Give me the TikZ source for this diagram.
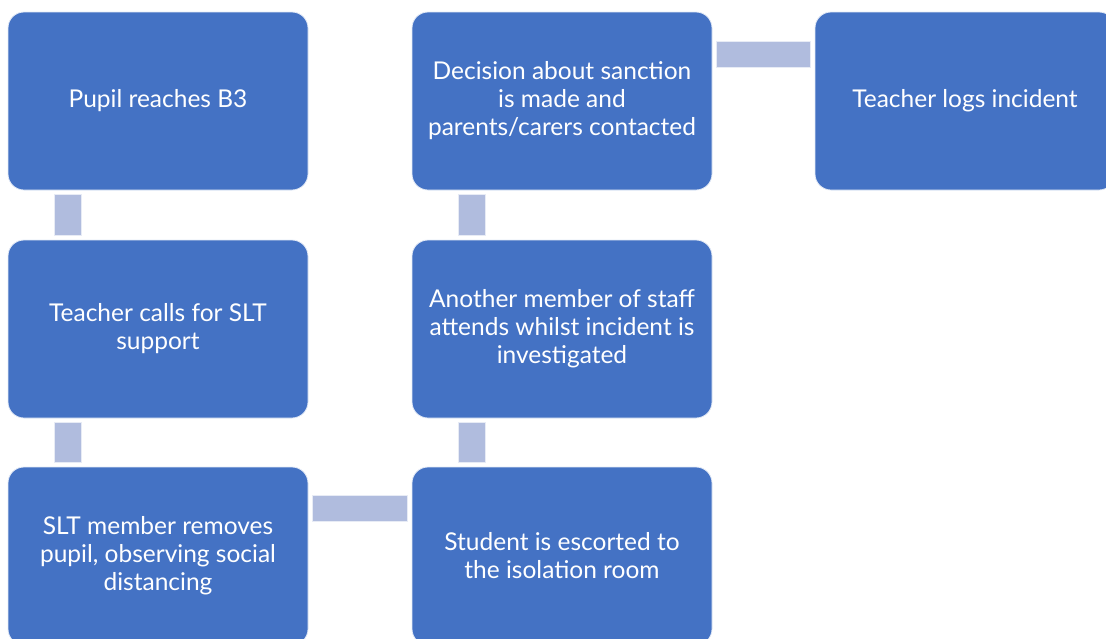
\documentclass[tikz,border=0pt]{standalone}
\usepackage{fontspec}
\setmainfont{Lato}
\usetikzlibrary{calc}
\definecolor{boxblue}{HTML}{4472C4}
\definecolor{linkblue}{HTML}{B0BCDE}
\tikzset{
  stepbox/.style={rectangle, rounded corners=16pt, fill=boxblue, draw=white!85!boxblue, line width=0.8pt,
    minimum width=300pt, minimum height=178pt, align=center, text=white,
    font=\fontsize{24.5}{28}\selectfont, inner sep=0pt},
  linkbar/.style={fill=linkblue, draw=white!70!linkblue, line width=0.6pt}
}
\begin{document}
\begin{tikzpicture}[x=1pt,y=-1pt]
\useasboundingbox (0,0) rectangle (1106,638);
\node[stepbox] (A) at (158,101) {Pupil reaches B3};
\node[stepbox] (B) at (158,329) {Teacher calls for SLT\\support};
\node[stepbox] (C) at (158,556) {SLT member removes\\pupil, observing social\\distancing};
\node[stepbox] (D) at (562,556) {Student is escorted to\\the isolation room};
\node[stepbox] (E) at (562,329) {Another member of staff\\attends whilst incident is\\investigated};
\node[stepbox] (F) at (562,101) {Decision about sanction\\is made and\\parents/carers contacted};
\node[stepbox] (G) at (965,101) {Teacher logs incident};
\path[linkbar] ($(A.south west)+(47,4)$) rectangle ($(B.north west)+(74,-4)$);
\path[linkbar] ($(B.south west)+(47,4)$) rectangle ($(C.north west)+(74,-4)$);
\path[linkbar] ($(C.north east)+(4,29)$) rectangle ($(D.north west)+(-4,55)$);
\path[linkbar] ($(D.north west)+(47,-4)$) rectangle ($(E.south west)+(74,4)$);
\path[linkbar] ($(E.north west)+(47,-4)$) rectangle ($(F.south west)+(74,4)$);
\path[linkbar] ($(F.north east)+(4,30)$) rectangle ($(G.north west)+(-4,56)$);
\end{tikzpicture}
\end{document}
